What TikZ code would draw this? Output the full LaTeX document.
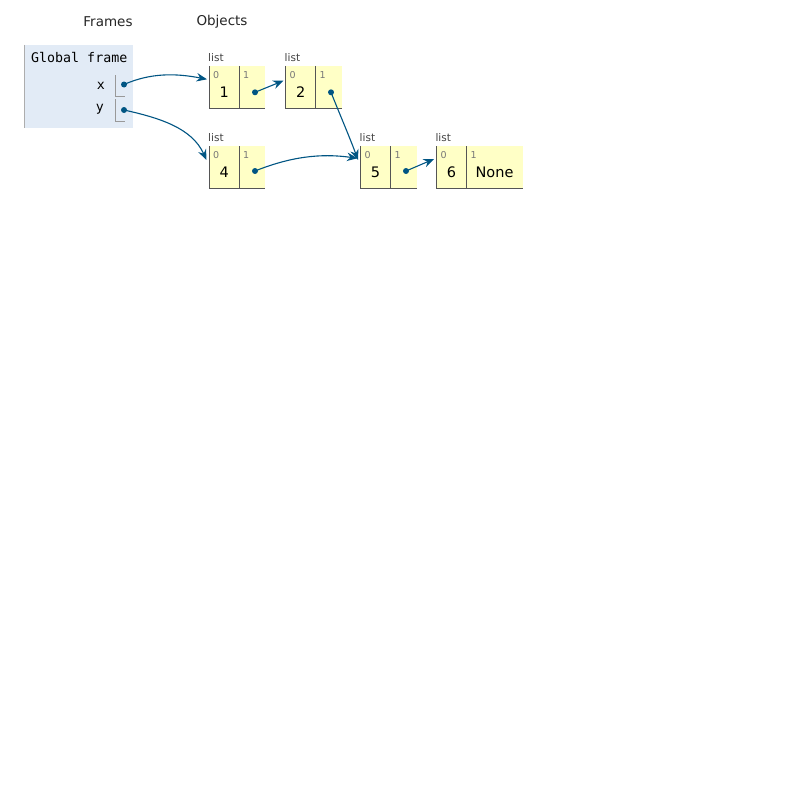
\documentclass[tikz,border=0pt]{standalone}
\usepackage{fontspec}
\setmainfont{DejaVu Sans}
\newfontfamily\monof{DejaVu Sans Mono}
\usetikzlibrary{arrows.meta}
\definecolor{cellyellow}{HTML}{FFFFC6}
\definecolor{framebg}{HTML}{E2EBF6}
\definecolor{ptrblue}{HTML}{005583}
\definecolor{edgegray}{HTML}{555555}
\definecolor{idxgray}{HTML}{777777}
\definecolor{brgray}{HTML}{999999}
\tikzset{
  cellbox/.style={fill=cellyellow, inner sep=0pt, anchor=north west, minimum height=42pt},
  idx/.style={font=\fontsize{9.5}{10}\selectfont, text=idxgray, inner sep=0pt},
  val/.style={font=\fontsize{14.5}{16}\selectfont, inner sep=0pt},
  lbl/.style={font=\fontsize{10.5}{12}\selectfont, text=edgegray!80!black, inner sep=0pt, anchor=west},
  hdr/.style={font=\fontsize{13.5}{15}\selectfont, text=black!85, inner sep=0pt},
  mono/.style={font=\monof\fontsize{13.3}{15}\selectfont, inner sep=0pt},
  border/.style={draw=edgegray, line width=1pt},
  bracket/.style={draw=brgray, line width=1pt},
  dotc/.style={fill=ptrblue, draw=none},
  ptr/.style={draw=ptrblue, line width=1.1pt, -{Stealth[length=10.5pt,width=8.5pt,inset=3.5pt]}},
}
\newcommand{\mkcell}[4]{% name, x, y, width
  \node[cellbox, minimum width=#4pt] (#1) at (#2,#3) {};
  \draw[border] (#1.north west) -- (#1.south west) -- (#1.south east);
}
\begin{document}
\begin{tikzpicture}[x=1pt,y=-1pt]
\useasboundingbox[fill=white] (0,0) rectangle (800,800);
% headers
\node[hdr] (hframes) at (108,22) {Frames};
\node[hdr] (hobjects) at (222,22) {Objects};
% global frame
\node[fill=framebg, inner sep=0pt, anchor=north west, minimum width=109pt, minimum height=83pt] (gframe) at (24,45) {};
\draw[draw=brgray!80, line width=1pt] (gframe.north west) -- (gframe.south west);
\node[mono, anchor=west] (gtitle) at (31,58) {Global frame};
\node[mono] (vx) at (101,85.5) {x};
\node[mono] (vy) at (100,109.5) {y};
\draw[bracket] (115.7,75) -- (115.7,96) -- (125,96);
\draw[bracket] (115.7,99) -- (115.7,121.5) -- (125,121.5);
\coordinate (dx) at (124,84.5);
\coordinate (dy) at (124,110);
\fill[dotc] (dx) circle (3pt);
\fill[dotc] (dy) circle (3pt);
% list A: [1, ->]
\node[lbl] (lA) at (208,58) {list};
\mkcell{A0}{209}{66}{30}
\mkcell{A1}{239}{66}{26}
% list B: [2, ->]
\node[lbl] (lB) at (284.5,58) {list};
\mkcell{B0}{285.5}{66}{30}
\mkcell{B1}{315.5}{66}{26}
% list C: [4, ->]
\node[lbl] (lC) at (208,138) {list};
\mkcell{C0}{209}{146}{30}
\mkcell{C1}{239}{146}{26}
% list D: [5, ->]
\node[lbl] (lD) at (359.5,138) {list};
\mkcell{D0}{360.3}{146}{30}
\mkcell{D1}{390.3}{146}{26}
% list E: [6, None]
\node[lbl] (lE) at (435.3,138) {list};
\mkcell{E0}{436.3}{146}{30}
\mkcell{E1}{466.3}{146}{56}
% index labels and values
\foreach \c in {A0,B0,C0,D0,E0} {\node[idx, anchor=north west] at ([shift={(4pt,-5pt)}]\c.north west) {0};}
\foreach \c in {A1,B1,C1,D1,E1} {\node[idx, anchor=north west] at ([shift={(4pt,-5pt)}]\c.north west) {1};}
\node[val] (vA) at ([yshift=-26pt]A0.north) {1};
\node[val] (vB) at ([yshift=-26pt]B0.north) {2};
\node[val] (vC) at ([yshift=-26pt]C0.north) {4};
\node[val] (vD) at ([yshift=-26pt]D0.north) {5};
\node[val] (vE) at ([yshift=-26pt]E0.north) {6};
\node[val] (vN) at ([yshift=-26pt]E1.north) {None};
% pointer dots
\coordinate (pA) at (255,92.3);
\coordinate (pB) at (331,92.3);
\coordinate (pC) at (255,171);
\coordinate (pD) at (406,171);
\foreach \p in {pA,pB,pC,pD} {\fill[dotc] (\p) circle (3pt);}
% targets
\coordinate (tA) at (207,79.3);
\coordinate (tB) at (283.5,80.7);
\coordinate (tC) at (206.5,160);
\coordinate (tD1) at (358,160);
\coordinate (tD2) at (357.5,158.3);
\coordinate (tE) at (434,159);
% connectors
\draw[ptr] (dx) .. controls (150,73) and (175,73) .. (tA);
\draw[ptr] (dy) .. controls (160,118) and (192,128) .. (tC);
\draw[ptr] (pA) -- (tB);
\draw[ptr] (pB) .. controls (340,115) and (350,138) .. (tD1);
\draw[ptr] (pC) .. controls (290,157) and (320,153) .. (tD2);
\draw[ptr] (pD) -- (tE);
\end{tikzpicture}
\end{document}
